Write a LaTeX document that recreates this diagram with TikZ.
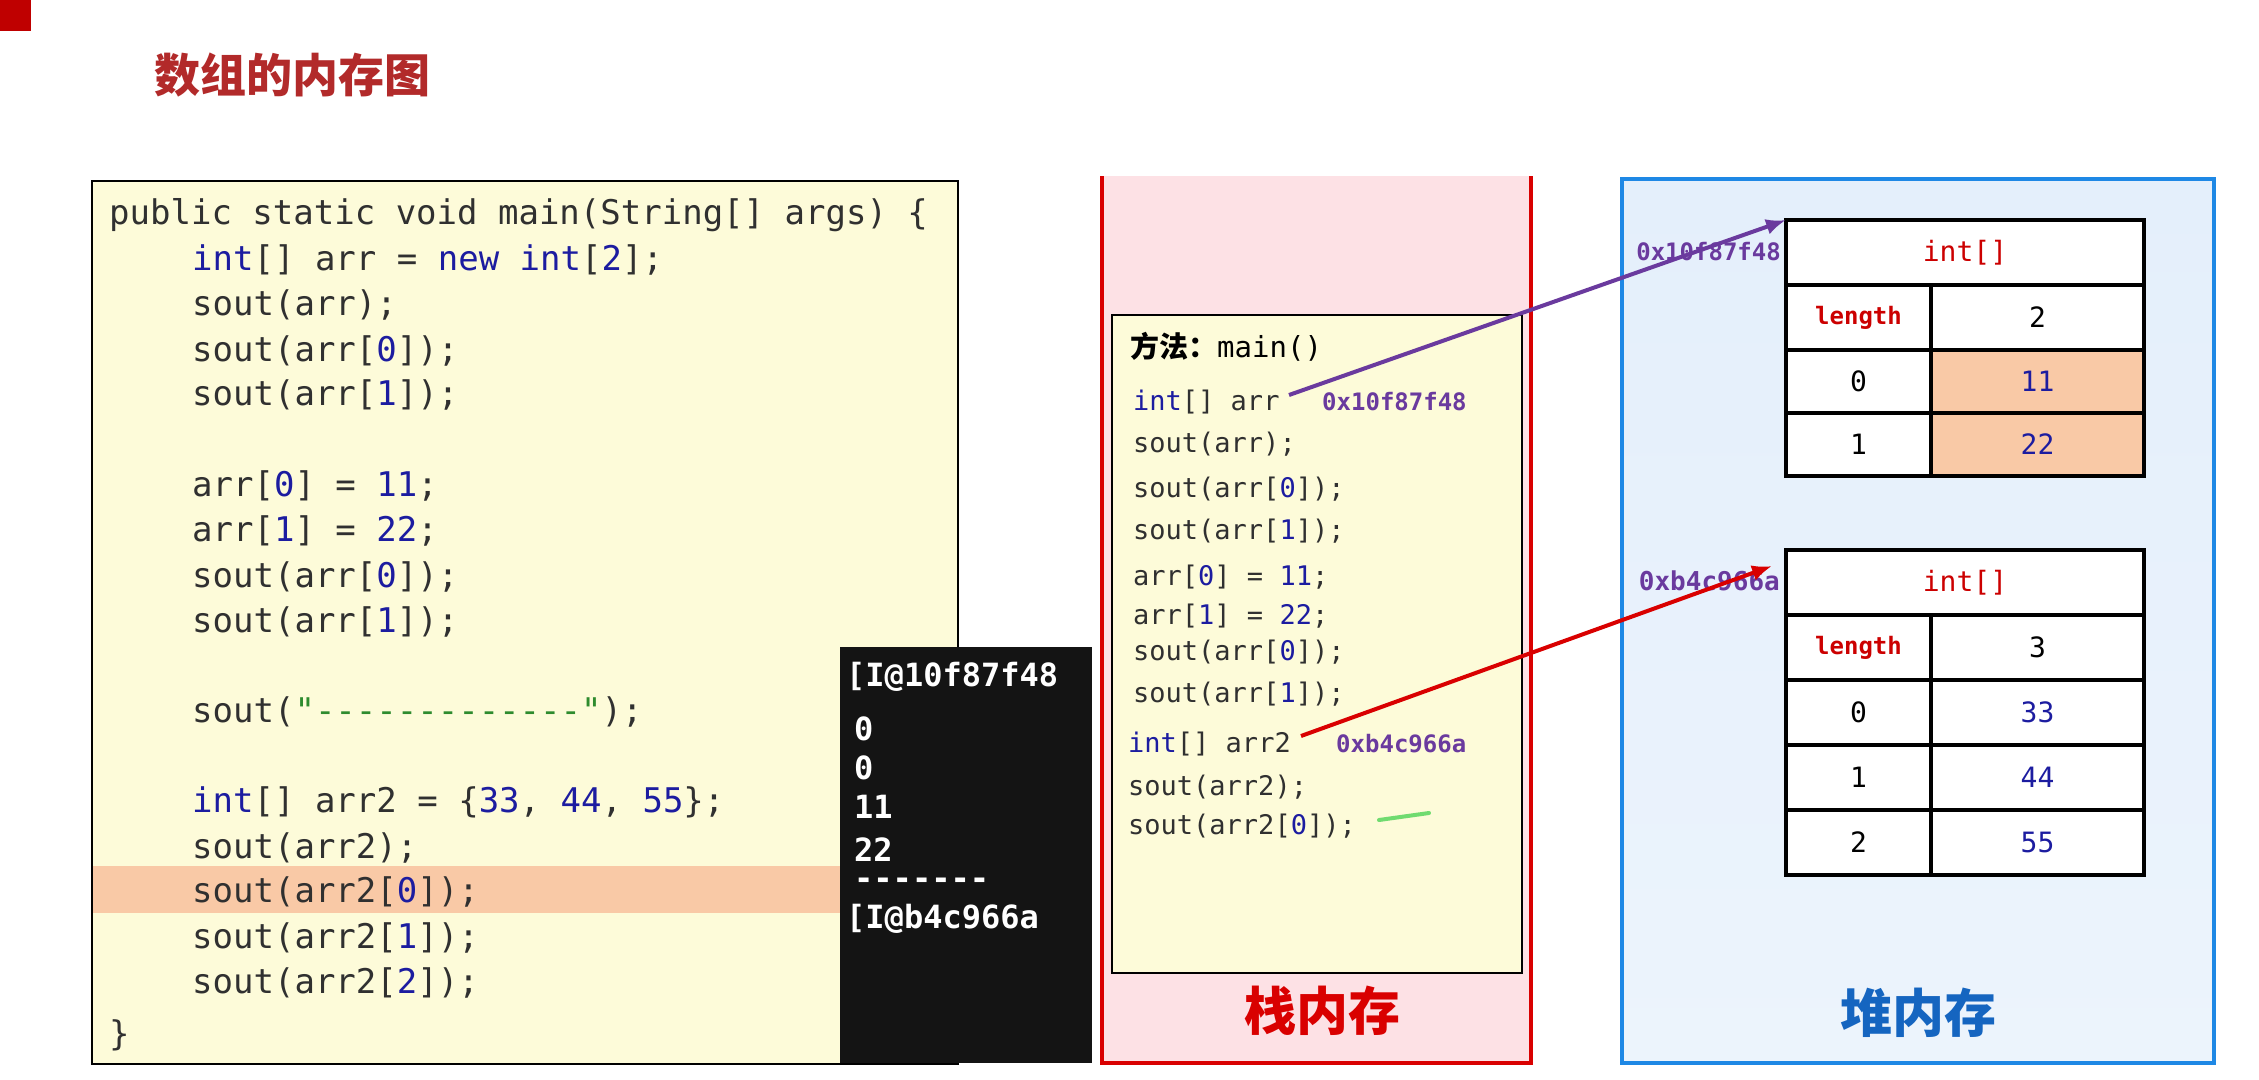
\documentclass[tikz,border=0pt]{standalone}
\usepackage{fontspec}
\setmonofont{DejaVu Sans Mono}
\newfontfamily\cjk{Noto Sans CJK SC}
\usetikzlibrary{arrows.meta}
\definecolor{codeyel}{HTML}{FDFBD9}
\definecolor{peach}{HTML}{F9C9A6}
\definecolor{pinkbg}{HTML}{FDE1E5}
\definecolor{bluebg}{HTML}{E4EFFB}
\definecolor{kw}{HTML}{1C1CA0}
\definecolor{txt}{HTML}{303030}
\definecolor{strg}{HTML}{2E8B2E}
\definecolor{titlered}{HTML}{B22A2A}
\definecolor{purp}{HTML}{6A3A9E}
\definecolor{hblue}{HTML}{1E88E5}
\definecolor{heaptxt}{HTML}{1565C0}
\newcommand{\kw}[1]{\textcolor{kw}{#1}}
\tikzset{
  code/.style={anchor=base west, inner sep=0, font=\ttfamily\fontsize{34}{34}\selectfont, text=txt},
  scode/.style={anchor=base west, inner sep=0, font=\ttfamily\fontsize{27}{27}\selectfont, text=txt},
  cons/.style={anchor=base west, inner sep=0, font=\ttfamily\bfseries\fontsize{32}{32}\selectfont, text=white},
  addr/.style={anchor=base west, inner sep=0, font=\ttfamily\bfseries\fontsize{24}{24}\selectfont, text=purp},
  cell/.style={draw=black, line width=4pt, anchor=north west, inner sep=0, outer sep=0, font=\ttfamily\fontsize{28}{28}\selectfont},
}
\begin{document}
\begin{tikzpicture}[x=1pt,y=-1pt]
\useasboundingbox (0,0) rectangle (2259,1079);
\fill[white] (0,0) rectangle (2259,1079);
\fill[red!75!black] (0,0) rectangle (31,31);
\node[anchor=base west, inner sep=0, text=titlered, font=\cjk\bfseries\fontsize{46}{46}\selectfont] (title) at (154,92) {数组的内存图};
% code box
\node[draw=black, line width=2pt, fill=codeyel, anchor=north west, minimum width=866, minimum height=883, inner sep=0] (codebox) at (91,180) {};
\fill[peach] (93,866) rectangle (840,913);
\node[code] (c1) at (109,224) {public static void main(String[] args) \{};
\node[code] (c2) at (192,270) {\kw{int}[] arr = \kw{new} \kw{int}[\kw{2}];};
\node[code] (c3) at (192,315) {sout(arr);};
\node[code] (c4) at (192,361) {sout(arr[\kw{0}]);};
\node[code] (c5) at (192,405) {sout(arr[\kw{1}]);};
\node[code] (c6) at (192,496) {arr[\kw{0}] = \kw{11};};
\node[code] (c7) at (192,541) {arr[\kw{1}] = \kw{22};};
\node[code] (c8) at (192,587) {sout(arr[\kw{0}]);};
\node[code] (c9) at (192,632) {sout(arr[\kw{1}]);};
\node[code] (c10) at (192,722) {sout(\textcolor{strg}{"-------------"});};
\node[code] (c11) at (192,812) {\kw{int}[] arr2 = \{\kw{33}, \kw{44}, \kw{55}\};};
\node[code] (c12) at (192,858) {sout(arr2);};
\node[code] (c13) at (192,902) {sout(arr2[\kw{0}]);};
\node[code] (c14) at (192,948) {sout(arr2[\kw{1}]);};
\node[code] (c15) at (192,993) {sout(arr2[\kw{2}]);};
\node[code] (c16) at (109,1045) {\}};
% console
\fill[black!92] (840,647) rectangle (1092,1063);
\node[cons] (o1) at (846,686) {[I@10f87f48};
\node[cons] (o2) at (854,740) {0};
\node[cons] (o3) at (854,779) {0};
\node[cons] (o4) at (854,818) {11};
\node[cons] (o5) at (854,861) {22};
\node[cons] (o6) at (854,889) {-------};
\node[cons] (o7) at (846,928) {[I@b4c966a};
% stack
\fill[pinkbg] (1102,176) rectangle (1531,1063);
\draw[red!85!black, line width=4pt] (1102,176) -- (1102,1063) -- (1531,1063) -- (1531,176);
\node[draw=black, line width=2pt, fill=codeyel, anchor=north west, minimum width=410, minimum height=658, inner sep=0] (mbox) at (1111,314) {};
\node[anchor=base west, inner sep=0, font=\fontsize{29}{29}\selectfont, text=black] (mtitle) at (1130,357) {{\cjk\bfseries 方法：}\ttfamily main()};
\node[scode] (s1) at (1133,410) {\kw{int}[] arr};
\node[scode] (s2) at (1133,452) {sout(arr);};
\node[scode] (s3) at (1133,497) {sout(arr[\kw{0}]);};
\node[scode] (s4) at (1133,539) {sout(arr[\kw{1}]);};
\node[scode] (s5) at (1133,585) {arr[\kw{0}] = \kw{11};};
\node[scode] (s6) at (1133,624) {arr[\kw{1}] = \kw{22};};
\node[scode] (s7) at (1133,660) {sout(arr[\kw{0}]);};
\node[scode] (s8) at (1133,702) {sout(arr[\kw{1}]);};
\node[scode] (s9) at (1128,752) {\kw{int}[] arr2};
\node[scode] (s10) at (1128,795) {sout(arr2);};
\node[scode] (s11) at (1128,834) {sout(arr2[\kw{0}]);};
\node[addr] (a1) at (1322,410) {0x10f87f48};
\node[addr] (a2) at (1336,752) {0xb4c966a};
\coordinate (g1) at (1379,820); \coordinate (g2) at (1429,813);
\draw[green!60!gray!70, line width=4pt, line cap=round] (g1) -- (g2);
\node[anchor=base, inner sep=0, text=red!85!black, font=\cjk\bfseries\fontsize{52}{52}\selectfont] (stk) at (1322,1030) {栈内存};
% heap
\shade[top color=bluebg, bottom color=bluebg!70!white] (1622,179) rectangle (2214,1063);
\draw[hblue, line width=4pt] (1622,179) rectangle (2214,1063);
\node[anchor=base, inner sep=0, text=heaptxt, font=\cjk\bfseries\fontsize{52}{52}\selectfont] (hp) at (1918,1032) {堆内存};
% table 1
\node[cell, fill=white, minimum width=358, minimum height=65, text=red!80!black] (h1) at (1786,220) {int[]};
\node[cell, fill=white, minimum width=145, minimum height=65, font=\ttfamily\bfseries\fontsize{24}{24}\selectfont, text=red!80!black] (l1) at (1786,285) {length};
\node[cell, fill=white, minimum width=213, minimum height=65] (v1) at (1931,285) {2};
\node[cell, fill=white, minimum width=145, minimum height=63] (i10) at (1786,350) {0};
\node[cell, fill=peach, minimum width=213, minimum height=63, text=kw] (v10) at (1931,350) {11};
\node[cell, fill=white, minimum width=145, minimum height=63] (i11) at (1786,413) {1};
\node[cell, fill=peach, minimum width=213, minimum height=63, text=kw] (v11) at (1931,413) {22};
% table 2
\node[cell, fill=white, minimum width=358, minimum height=65, text=red!80!black] (h2) at (1786,550) {int[]};
\node[cell, fill=white, minimum width=145, minimum height=65, font=\ttfamily\bfseries\fontsize{24}{24}\selectfont, text=red!80!black] (l2) at (1786,615) {length};
\node[cell, fill=white, minimum width=213, minimum height=65] (v2) at (1931,615) {3};
\node[cell, fill=white, minimum width=145, minimum height=65] (i20) at (1786,680) {0};
\node[cell, fill=white, minimum width=213, minimum height=65, text=kw] (v20) at (1931,680) {33};
\node[cell, fill=white, minimum width=145, minimum height=65] (i21) at (1786,745) {1};
\node[cell, fill=white, minimum width=213, minimum height=65, text=kw] (v21) at (1931,745) {44};
\node[cell, fill=white, minimum width=145, minimum height=65] (i22) at (1786,810) {2};
\node[cell, fill=white, minimum width=213, minimum height=65, text=kw] (v22) at (1931,810) {55};
% arrows
\node[addr, anchor=base east] (b1) at (1781,260) {0x10f87f48};
\node[addr, anchor=base east, font=\ttfamily\bfseries\fontsize{26}{26}\selectfont] (b2) at (1780,590) {0xb4c966a};
\coordinate (p1) at (1289,395);
\coordinate (p2) at (1301,736);
\coordinate (q2) at ([xshift=-14pt,yshift=-16pt]h2.north west);
\draw[purp, line width=4pt, -{Latex[length=20pt,width=16pt]}] (p1) -- (h1.north west);
\draw[red!85!black, line width=4pt, -{Latex[length=20pt,width=16pt]}] (p2) -- (q2);
\end{tikzpicture}
\end{document}
